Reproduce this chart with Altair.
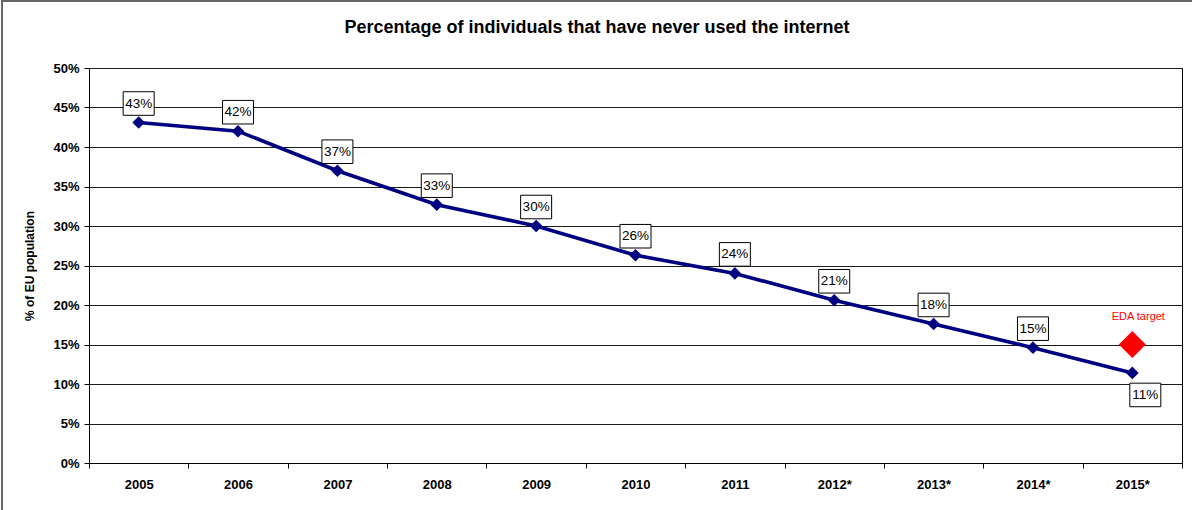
import altair as alt
import pandas as pd

years = ["2005", "2006", "2007", "2008", "2009", "2010", "2011", "2012*", "2013*", "2014*", "2015*"]
values = [0.431, 0.420, 0.370, 0.327, 0.300, 0.263, 0.240, 0.206, 0.176, 0.146, 0.114]
labels = ["43%", "42%", "37%", "33%", "30%", "26%", "24%", "21%", "18%", "15%", "11%"]
target_year = ["2015*"]
target_value = [0.15]
target_label = ["EDA target"]
y_ticks = [0, 0.05, 0.10, 0.15, 0.20, 0.25, 0.30, 0.35, 0.40, 0.45, 0.50]
chart_title = ["Percentage of individuals that have never used the internet"]

df = pd.DataFrame({"year": years, "value": values, "label": labels})
tdf = pd.DataFrame({"year": target_year, "value": target_value, "label": target_label})
one = pd.DataFrame({"a": [0]})
title_df = pd.DataFrame({"t": chart_title})

W, H = 1093, 395
FONT = "Liberation Sans"
NAVY = "#000080"

x = alt.X(
    "year:N", sort=years, bandPosition=0.5,
    scale=alt.Scale(type="band", domain=years, paddingInner=0, paddingOuter=0),
    axis=alt.Axis(title=None, labelAngle=0, labelFont=FONT, labelFontSize=13,
                  labelFontWeight="bold", labelColor="black", tickBand="extent",
                  tickSize=5, tickColor="black", domainColor="black",
                  labelPadding=10, grid=False),
)
y = alt.Y(
    "value:Q", scale=alt.Scale(domain=[0, 0.5], nice=False),
    axis=alt.Axis(format=".0%", values=y_ticks, title="% of EU population",
                  titleFont=FONT, titleFontSize=12, titleFontWeight="bold",
                  titleColor="black", titlePadding=16,
                  labelFont=FONT, labelFontSize=13, labelFontWeight="bold",
                  labelColor="black", labelPadding=5, tickSize=5, tickColor="black",
                  domainColor="black", grid=True, gridColor="#1a1a1a", gridWidth=1),
)

base = alt.Chart(df)
line = base.mark_line(color=NAVY, strokeWidth=3.6).encode(x=x, y=y)
pts = base.mark_point(shape="diamond", size=160, filled=True, color=NAVY, opacity=1).encode(x=x, y=y)

box_path = "M-1,-0.76L1,-0.76L1,0.76L-1,0.76Z"
above = base.transform_filter(alt.datum.year != "2015*")
below = base.transform_filter(alt.datum.year == "2015*")
box_a = above.mark_point(shape=box_path, size=961, filled=True, fill="white", stroke="black",
                         strokeWidth=1, opacity=1, yOffset=-19).encode(x=x, y=y)
txt_a = above.mark_text(font=FONT, fontSize=13.5, color="black", baseline="middle",
                        yOffset=-19).encode(x=x, y=y, text="label:N")
box_b = below.mark_point(shape=box_path, size=961, filled=True, fill="white", stroke="black",
                         strokeWidth=1, opacity=1, yOffset=22, xOffset=13).encode(x=x, y=y)
txt_b = below.mark_text(font=FONT, fontSize=13.5, color="black", baseline="middle",
                        yOffset=22, xOffset=13).encode(x=x, y=y, text="label:N")

tgt = alt.Chart(tdf).mark_point(shape="diamond", size=729, filled=True, color="#ff0000",
                                opacity=1).encode(x=x, y=y)
tgt_txt = alt.Chart(tdf).mark_text(font=FONT, fontSize=11, color="#ff0000", baseline="middle",
                                   xOffset=6, yOffset=-28).encode(x=x, y=y, text="label:N")

title_txt = alt.Chart(title_df).mark_text(font=FONT, fontSize=18, fontWeight="bold", color="black",
                                          baseline="middle", align="center").encode(
    x=alt.value(597 - 89), y=alt.value(28 - 68), text="t:N")

border_l = alt.Chart(one).mark_rule(color="#666666", strokeWidth=2).encode(
    x=alt.value(-87), y=alt.value(-67), y2=alt.value(H + 47))
border_t = alt.Chart(one).mark_rule(color="#666666", strokeWidth=2).encode(
    x=alt.value(-88), x2=alt.value(W + 10), y=alt.value(-67))

chart = alt.layer(line, pts, box_a, txt_a, box_b, txt_b, tgt, tgt_txt, title_txt,
                  border_l, border_t).properties(
    width=W, height=H,
    autosize=alt.AutoSizeParams(type="none"),
    padding={"left": 89, "top": 68, "right": 10, "bottom": 47},
    background="white",
).configure_view(stroke="black", strokeWidth=1)

chart.save("out.html", embed_options={"renderer": "svg", "actions": False})
